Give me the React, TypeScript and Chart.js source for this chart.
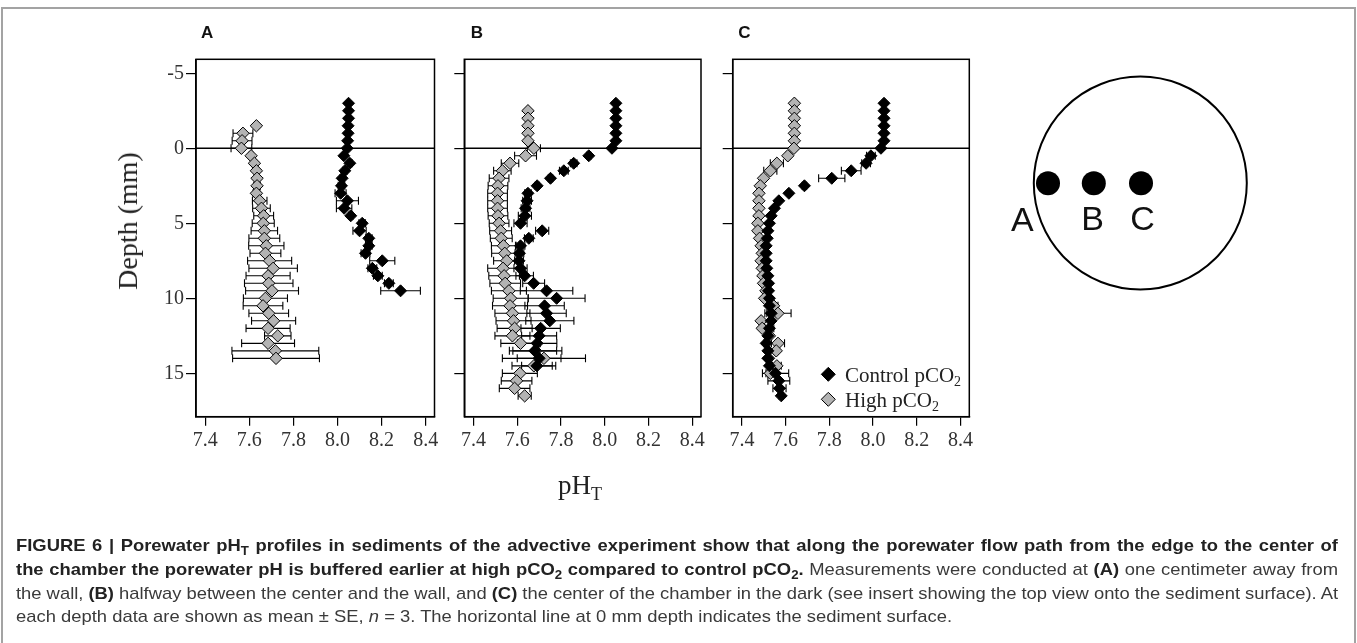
import React, { useEffect, useLayoutEffect, useRef } from 'react';
import { Chart, registerables } from 'chart.js';

Chart.register(...registerables);

// ---------- axis ticks ----------
const depthTicks = [-5, 0, 5, 10, 15];
const phTicks = [7.4, 7.6, 7.8, 8.0, 8.2, 8.4];
const DEPTH_MIN = -5.93;
const DEPTH_MAX = 17.89;
const PH_MIN = 7.358;
const PH_MAX = 8.44;
const SURFACE_DEPTH = 0;

// ---------- Panel A (1 cm from the wall) ----------
const depthACtrl = [-3, -2.5, -2, -1.5, -1, -0.5, 0, 0.5, 1, 1.5, 2, 2.5, 3, 3.5, 4, 4.5, 5, 5.5, 6, 6.5, 7, 7.5, 8, 8.5, 9, 9.5];
const phACtrl = [8.05, 8.05, 8.05, 8.048, 8.048, 8.046, 8.044, 8.029, 8.056, 8.033, 8.021, 8.018, 8.014, 8.045, 8.03, 8.06, 8.112, 8.1, 8.142, 8.142, 8.127, 8.203, 8.158, 8.183, 8.233, 8.286];
const seACtrl = [0, 0, 0, 0, 0, 0, 0, 0.005, 0.01, 0.01, 0.01, 0.015, 0.025, 0.05, 0.035, 0.01, 0.015, 0.03, 0.015, 0.015, 0.02, 0.057, 0.02, 0.02, 0.02, 0.09];

const depthAHigh = [-1.5, -1, -0.5, 0, 0.5, 1, 1.5, 2, 2.5, 3, 3.5, 4, 4.5, 5, 5.5, 6, 6.5, 7, 7.5, 8, 8.5, 9, 9.5, 10, 10.5, 11, 11.5, 12, 12.5, 13, 13.5, 14];
const phAHigh = [7.632, 7.571, 7.567, 7.564, 7.608, 7.623, 7.632, 7.635, 7.635, 7.632, 7.647, 7.655, 7.665, 7.663, 7.668, 7.668, 7.677, 7.673, 7.692, 7.708, 7.685, 7.688, 7.703, 7.673, 7.662, 7.688, 7.71, 7.685, 7.729, 7.685, 7.718, 7.721];
const seAHigh = [0, 0.045, 0.045, 0.047, 0.01, 0.01, 0.01, 0.01, 0.015, 0.015, 0.033, 0.04, 0.045, 0.05, 0.06, 0.07, 0.08, 0.07, 0.1, 0.11, 0.1, 0.11, 0.12, 0.1, 0.09, 0.09, 0.1, 0.1, 0.06, 0.12, 0.197, 0.197];

// ---------- Panel B (halfway) ----------
const depthBCtrl = [-3, -2.5, -2, -1.5, -1, -0.5, 0, 0.5, 1, 1.5, 2, 2.5, 3, 3.5, 4, 4.5, 5, 5.5, 6, 6.5, 7, 7.5, 8, 8.5, 9, 9.5, 10, 10.5, 11, 11.5, 12, 12.5, 13, 13.5, 14, 14.5];
const phBCtrl = [8.051, 8.051, 8.051, 8.051, 8.051, 8.051, 8.033, 7.927, 7.858, 7.813, 7.752, 7.691, 7.649, 7.645, 7.638, 7.635, 7.615, 7.714, 7.653, 7.615, 7.61, 7.608, 7.615, 7.634, 7.675, 7.734, 7.78, 7.725, 7.734, 7.749, 7.707, 7.7, 7.691, 7.68, 7.7, 7.69];
const seBCtrl = [0, 0, 0, 0, 0, 0, 0, 0.01, 0.015, 0.02, 0.01, 0.01, 0.015, 0.02, 0.02, 0.03, 0.03, 0.03, 0.02, 0.02, 0.02, 0.02, 0.03, 0.04, 0.05, 0.12, 0.13, 0.09, 0.09, 0.11, 0.09, 0.08, 0.09, 0.1, 0.1, 0.07];

const depthBHigh = [-2.5, -2, -1.5, -1, -0.5, 0, 0.5, 1, 1.5, 2, 2.5, 3, 3.5, 4, 4.5, 5, 5.5, 6, 6.5, 7, 7.5, 8, 8.5, 9, 9.5, 10, 10.5, 11, 11.5, 12, 12.5, 13, 13.5, 14, 14.5, 15, 15.5, 16, 16.5];
const phBHigh = [7.649, 7.649, 7.649, 7.649, 7.649, 7.676, 7.638, 7.567, 7.532, 7.517, 7.512, 7.51, 7.51, 7.51, 7.512, 7.517, 7.524, 7.527, 7.537, 7.543, 7.552, 7.535, 7.54, 7.545, 7.562, 7.57, 7.567, 7.578, 7.583, 7.588, 7.578, 7.615, 7.684, 7.722, 7.676, 7.612, 7.597, 7.588, 7.634];
const seBHigh = [0, 0, 0, 0, 0, 0.03, 0.05, 0.04, 0.04, 0.045, 0.045, 0.045, 0.045, 0.045, 0.045, 0.045, 0.05, 0.05, 0.055, 0.06, 0.06, 0.07, 0.07, 0.07, 0.08, 0.08, 0.08, 0.08, 0.08, 0.08, 0.08, 0.09, 0.12, 0.19, 0.1, 0.08, 0.07, 0.07, 0.03];

// ---------- Panel C (center) ----------
const depthCCtrl = [-3, -2.5, -2, -1.5, -1, -0.5, 0, 0.5, 1, 1.5, 2, 2.5, 3, 3.5, 4, 4.5, 5, 5.5, 6, 6.5, 7, 7.5, 8, 8.5, 9, 9.5, 10, 10.5, 11, 11.5, 12, 12.5, 13, 13.5, 14, 14.5, 15, 15.5, 16, 16.5];
const phCCtrl = [8.05, 8.05, 8.05, 8.05, 8.05, 8.05, 8.036, 7.99, 7.968, 7.9, 7.811, 7.686, 7.615, 7.569, 7.549, 7.534, 7.526, 7.519, 7.516, 7.511, 7.511, 7.511, 7.514, 7.519, 7.522, 7.522, 7.526, 7.526, 7.534, 7.534, 7.526, 7.519, 7.511, 7.519, 7.519, 7.526, 7.554, 7.569, 7.572, 7.58];
const seCCtrl = [0, 0, 0, 0, 0, 0, 0, 0.02, 0.02, 0.045, 0.06, 0.01, 0, 0, 0, 0, 0, 0, 0, 0, 0, 0, 0, 0, 0, 0, 0, 0, 0.02, 0.01, 0.02, 0.01, 0.01, 0.01, 0.01, 0.01, 0.06, 0.05, 0.03, 0.01];

const depthCHigh = [-3, -2.5, -2, -1.5, -1, -0.5, 0, 0.5, 1, 1.5, 2, 2.5, 3, 3.5, 4, 4.5, 5, 5.5, 6, 6.5, 7, 7.5, 8, 8.5, 9, 9.5, 10, 10.5, 11, 11.5, 12, 12.5, 13, 13.5, 14, 14.5, 15];
const phCHigh = [7.64, 7.64, 7.64, 7.64, 7.64, 7.64, 7.638, 7.61, 7.56, 7.53, 7.499, 7.484, 7.478, 7.478, 7.478, 7.478, 7.473, 7.473, 7.481, 7.488, 7.493, 7.488, 7.493, 7.496, 7.499, 7.51, 7.504, 7.545, 7.565, 7.488, 7.493, 7.526, 7.565, 7.557, 7.522, 7.56, 7.53];
const seCHigh = [0, 0, 0, 0, 0, 0, 0, 0.01, 0.03, 0.03, 0.01, 0, 0, 0, 0, 0, 0, 0, 0, 0, 0, 0, 0, 0, 0, 0, 0, 0.02, 0.06, 0, 0, 0.01, 0.03, 0.01, 0.01, 0.02, 0.02];

const seriesLabels = ['Control pCO', 'High pCO'];
const seriesSub = '2';

const SERIF = '"Liberation Serif", "Times New Roman", serif';
const SANS = '"Liberation Sans", Arial, Helvetica, sans-serif';

Chart.defaults.font.family = SERIF;

function toPoints(depths: number[], ph: number[], se: number[]) {
  return depths.map((d, i) => ({ x: ph[i], y: d, e: se[i] }));
}

const surfaceAndFramePlugin = {
  id: 'surfaceAndFrame',
  beforeDatasetsDraw(chart: any) {
    const { ctx, chartArea: a, scales } = chart;
    const y0 = scales.y.getPixelForValue(SURFACE_DEPTH);
    ctx.save();
    ctx.strokeStyle = '#000';
    ctx.lineWidth = 1.3;
    ctx.beginPath();
    ctx.moveTo(a.left, y0);
    ctx.lineTo(a.right, y0);
    ctx.stroke();
    ctx.lineWidth = 1.5;
    ctx.strokeRect(a.left, a.top, a.right - a.left, a.bottom - a.top);
    ctx.restore();
  },
};

const errorBarPlugin = {
  id: 'errorBars',
  beforeDatasetsDraw(chart: any) {
    const { ctx, scales } = chart;
    const xs = scales.x;
    const ys = scales.y;
    ctx.save();
    ctx.strokeStyle = '#000';
    ctx.lineWidth = 1.1;
    chart.data.datasets.forEach((ds: any) => {
      ds.data.forEach((p: any) => {
        if (!p.e) return;
        const py = ys.getPixelForValue(p.y);
        const x1 = xs.getPixelForValue(p.x - p.e);
        const x2 = xs.getPixelForValue(p.x + p.e);
        ctx.beginPath();
        ctx.moveTo(x1, py);
        ctx.lineTo(x2, py);
        ctx.moveTo(x1, py - 4);
        ctx.lineTo(x1, py + 4);
        ctx.moveTo(x2, py - 4);
        ctx.lineTo(x2, py + 4);
        ctx.stroke();
      });
    });
    ctx.restore();
  },
};

const cornerLegendPlugin = {
  id: 'cornerLegend',
  afterDraw(chart: any) {
    const { ctx, chartArea: a } = chart;
    ctx.save();
    chart.data.datasets.forEach((ds: any, i: number) => {
      const mx = a.right - 141;
      const my = a.bottom - 42.4 + i * 25;
      const r = 7;
      ctx.beginPath();
      ctx.moveTo(mx - r, my);
      ctx.lineTo(mx, my - r);
      ctx.lineTo(mx + r, my);
      ctx.lineTo(mx, my + r);
      ctx.closePath();
      ctx.fillStyle = ds.backgroundColor;
      ctx.fill();
      ctx.lineWidth = 1;
      ctx.strokeStyle = '#000';
      ctx.stroke();
      const tx = a.right - 124.3;
      const ty = my + 7.4;
      ctx.fillStyle = '#222';
      ctx.font = `21px ${SERIF}`;
      ctx.textBaseline = 'alphabetic';
      ctx.textAlign = 'left';
      ctx.fillText(seriesLabels[i], tx, ty);
      const w = ctx.measureText(seriesLabels[i]).width;
      ctx.font = `14px ${SERIF}`;
      ctx.fillText(seriesSub, tx + w, ty + 4);
    });
    ctx.restore();
  },
};

type PanelProps = {
  left: number;
  width: number;
  yAxisWidth: number;
  padRight: number;
  showYLabels: boolean;
  legend: boolean;
  ctrl: { x: number; y: number; e: number }[];
  high: { x: number; y: number; e: number }[];
};

function PanelChart({ left, width, yAxisWidth, padRight, showYLabels, legend, ctrl, high }: PanelProps) {
  const ref = useRef<HTMLCanvasElement>(null);
  useEffect(() => {
    const grid = {
      display: true,
      drawOnChartArea: false,
      drawTicks: true,
      tickLength: 10,
      color: '#000',
      lineWidth: 1.2,
    };
    const border = { display: true, color: '#000', width: 1.5 };
    const chart = new Chart(ref.current as HTMLCanvasElement, {
      type: 'scatter',
      data: {
        datasets: [
          {
            label: seriesLabels[0] + seriesSub,
            data: ctrl,
            pointStyle: 'rectRot',
            pointRadius: 6,
            pointHoverRadius: 6,
            backgroundColor: '#000',
            borderColor: '#000',
            borderWidth: 1,
          },
          {
            label: seriesLabels[1] + seriesSub,
            data: high,
            pointStyle: 'rectRot',
            pointRadius: 6.2,
            pointHoverRadius: 6.2,
            backgroundColor: '#b3b3b3',
            borderColor: '#000',
            borderWidth: 1,
          },
        ],
      } as any,
      options: {
        responsive: false,
        animation: false,
        events: [],
        layout: { padding: { top: 19.3, right: padRight, left: 0, bottom: 0 } },
        plugins: { legend: { display: false }, tooltip: { enabled: false } },
        scales: {
          x: {
            type: 'linear',
            min: PH_MIN,
            max: PH_MAX,
            afterFit: (s: any) => {
              s.height = 63.3;
            },
            afterBuildTicks: (s: any) => {
              s.ticks = phTicks.map((v) => ({ value: v }));
            },
            ticks: {
              callback: (v: any) => Number(v).toFixed(1),
              font: { size: 20, family: SERIF },
              color: '#333',
              padding: 3,
              autoSkip: false,
              maxRotation: 0,
            },
            grid: { ...grid, tickLength: 9 },
            border,
          },
          y: {
            type: 'linear',
            reverse: true,
            min: DEPTH_MIN,
            max: DEPTH_MAX,
            afterFit: (s: any) => {
              s.width = yAxisWidth;
            },
            afterBuildTicks: (s: any) => {
              s.ticks = depthTicks.map((v) => ({ value: v }));
            },
            ticks: {
              display: showYLabels,
              callback: (v: any) => String(v),
              font: { size: 20, family: SERIF },
              color: '#333',
              padding: 2,
              autoSkip: false,
            },
            grid,
            border,
          },
        },
      } as any,
      plugins: legend
        ? [surfaceAndFramePlugin, errorBarPlugin, cornerLegendPlugin]
        : [surfaceAndFramePlugin, errorBarPlugin],
    });
    return () => chart.destroy();
  }, []);
  return (
    <canvas
      ref={ref}
      width={width}
      height={440}
      style={{ position: 'absolute', left, top: 40, width, height: 440 }}
    />
  );
}

const subStyle: React.CSSProperties = { fontSize: '0.72em', verticalAlign: '-0.32em', lineHeight: 0 };

const CAP_LEFT = 16;

export default function App() {
  const capRefs = useRef<(HTMLSpanElement | null)[]>([]);
  // caption: lines 1-3 are justified to this width; line 4 is natural
  const justifiedWidth = 1338 - CAP_LEFT;
  const lastLineWidth = 952 - CAP_LEFT;

  useLayoutEffect(() => {
    document.body.style.margin = '0';
    const els = capRefs.current;
    els.forEach((el) => {
      if (el) {
        el.style.transform = 'none';
        el.style.wordSpacing = '0px';
      }
    });
    const last = els[3];
    if (!last) return;
    const w4 = last.getBoundingClientRect().width;
    const s = w4 > 0 ? lastLineWidth / w4 : 1;
    els.forEach((el, i) => {
      if (!el) return;
      if (i < 3) {
        const w = el.getBoundingClientRect().width;
        const spaces = (el.textContent || '').split(' ').length - 1;
        const extra = (justifiedWidth / s - w) / Math.max(spaces, 1);
        el.style.wordSpacing = `${extra}px`;
      }
      el.style.transform = `scaleX(${s})`;
    });
  }, []);

  const capLine = (i: number, top: number, content: React.ReactNode) => (
    <div style={{ position: 'absolute', left: CAP_LEFT, top, whiteSpace: 'nowrap', lineHeight: 1 }}>
      <span
        ref={(el) => {
          capRefs.current[i] = el;
        }}
        style={{ display: 'inline-block', transformOrigin: 'left center' }}
      >
        {content}
      </span>
    </div>
  );

  const B = ({ children }: { children: React.ReactNode }) => (
    <b style={{ color: '#222', fontWeight: 700 }}>{children}</b>
  );

  return (
    <div
      style={{
        position: 'fixed',
        left: 0,
        top: 0,
        width: 1357,
        height: 643,
        background: '#fff',
        overflow: 'hidden',
      }}
    >
      <div
        style={{
          position: 'absolute',
          left: 1,
          top: 7,
          width: 1355,
          height: 700,
          border: '2px solid #a3a3a3',
          boxSizing: 'border-box',
        }}
      />

      <PanelChart left={100} width={345} yAxisWidth={96} padRight={10.5} showYLabels={true} legend={false}
        ctrl={toPoints(depthACtrl, phACtrl, seACtrl)} high={toPoints(depthAHigh, phAHigh, seAHigh)} />
      <PanelChart left={445} width={268} yAxisWidth={19.3} padRight={12} showYLabels={false} legend={false}
        ctrl={toPoints(depthBCtrl, phBCtrl, seBCtrl)} high={toPoints(depthBHigh, phBHigh, seBHigh)} />
      <PanelChart left={713} width={270} yAxisWidth={19.7} padRight={13.7} showYLabels={false} legend={true}
        ctrl={toPoints(depthCCtrl, phCCtrl, seCCtrl)} high={toPoints(depthCHigh, phCHigh, seCHigh)} />

      {[
        ['A', 201],
        ['B', 470.7],
        ['C', 738.3],
      ].map(([t, x]) => (
        <div
          key={t as string}
          style={{
            position: 'absolute',
            left: x as number,
            top: 23.9,
            fontFamily: SANS,
            fontWeight: 700,
            fontSize: 17,
            lineHeight: 1,
            color: '#111',
          }}
        >
          {t}
        </div>
      ))}

      <div
        style={{
          position: 'absolute',
          left: 127.5,
          top: 221,
          transform: 'translate(-50%, -50%) rotate(-90deg)',
          fontFamily: SERIF,
          fontSize: 28,
          lineHeight: 1,
          whiteSpace: 'nowrap',
          color: '#222',
        }}
      >
        Depth (mm)
      </div>

      <div
        style={{
          position: 'absolute',
          left: 558,
          top: 472.4,
          fontFamily: SERIF,
          fontSize: 27,
          lineHeight: 1,
          whiteSpace: 'nowrap',
          color: '#222',
        }}
      >
        pH<span style={{ fontSize: 18, position: 'relative', top: 6 }}>T</span>
      </div>

      <svg width={1357} height={643} style={{ position: 'absolute', left: 0, top: 0, pointerEvents: 'none' }}>
        <circle cx={1140.3} cy={183} r={106.5} fill="none" stroke="#000" strokeWidth={2} />
        <circle cx={1048} cy={183.3} r={12} fill="#000" />
        <circle cx={1093.8} cy={183.3} r={12} fill="#000" />
        <circle cx={1141} cy={183.3} r={12} fill="#000" />
        <text x={1022.3} y={231} textAnchor="middle" fontFamily={SANS} fontSize={34} fill="#111">A</text>
        <text x={1092.5} y={229.5} textAnchor="middle" fontFamily={SANS} fontSize={34} fill="#111">B</text>
        <text x={1142.5} y={229.5} textAnchor="middle" fontFamily={SANS} fontSize={34} fill="#111">C</text>
      </svg>

      <div style={{ fontFamily: SANS, fontSize: 17, color: '#3a3a3a' }}>
        {capLine(
          0,
          536.6,
          <B>
            FIGURE 6 | Porewater pH<sub style={subStyle}>T</sub> profiles in sediments of the advective experiment show
            that along the porewater flow path from the edge to the center of
          </B>
        )}
        {capLine(
          1,
          560.6,
          <>
            <B>
              the chamber the porewater pH is buffered earlier at high pCO<sub style={subStyle}>2</sub> compared to
              control pCO<sub style={subStyle}>2</sub>.
            </B>{' '}
            Measurements were conducted at <B>(A)</B> one centimeter away from
          </>
        )}
        {capLine(
          2,
          584.6,
          <>
            the wall, <B>(B)</B> halfway between the center and the wall, and <B>(C)</B> the center of the chamber in
            the dark (see insert showing the top view onto the sediment surface). At
          </>
        )}
        {capLine(
          3,
          607.6,
          <>
            each depth data are shown as mean ± SE, <i>n</i> = 3. The horizontal line at 0 mm depth indicates the
            sediment surface.
          </>
        )}
      </div>
    </div>
  );
}
